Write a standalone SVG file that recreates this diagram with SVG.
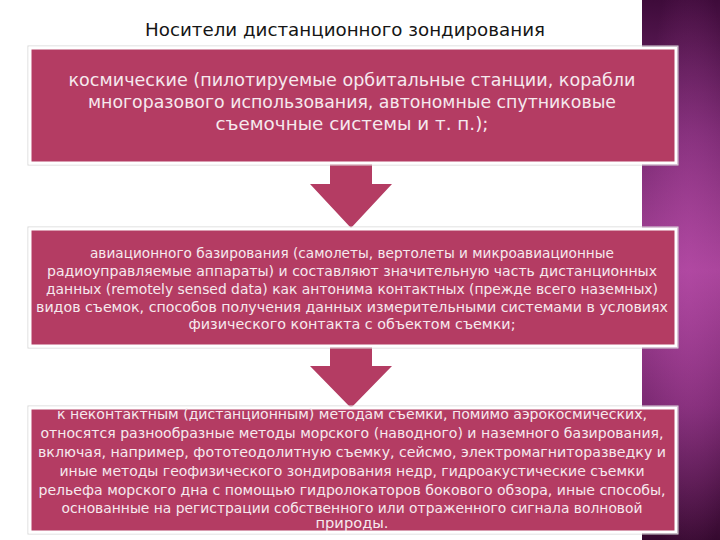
<svg xmlns="http://www.w3.org/2000/svg" width="720" height="540" viewBox="0 0 720 540">
<defs>
<linearGradient id="stripe" x1="0" y1="0" x2="0" y2="1">
<stop offset="0" stop-color="#3e0b3a"/>
<stop offset="0.25" stop-color="#7a2a72"/>
<stop offset="0.5" stop-color="#a8449a"/>
<stop offset="0.75" stop-color="#7c2a73"/>
<stop offset="1" stop-color="#35092f"/>
</linearGradient>
<radialGradient id="glow" cx="0.6" cy="0.5" r="0.6">
<stop offset="0" stop-color="#c050b0" stop-opacity="0.35"/>
<stop offset="1" stop-color="#c050b0" stop-opacity="0"/>
</radialGradient>
<style>
.box{fill:#b43c63;stroke:#ffffff;stroke-width:3}
.shadow{fill:none;stroke:#d8d8d8;stroke-width:1}
.t{font-family:"DejaVu Sans","Liberation Sans",sans-serif;fill:#f6e9ee;text-anchor:middle}
.t1{font-size:18px}
.t2{font-size:14px}
.title{font-family:"DejaVu Sans","Liberation Sans",sans-serif;font-size:17px;fill:#151515;text-anchor:middle}
.arrow{fill:#b43c63}
</style>
</defs>
<rect x="0" y="0" width="720" height="540" fill="#ffffff"/>
<rect x="642" y="0" width="78" height="540" fill="url(#stripe)"/>
<rect x="642" y="0" width="78" height="540" fill="url(#glow)"/>
<text id="title" class="title" x="345" y="36" textLength="400" lengthAdjust="spacingAndGlyphs">Носители дистанционного зондирования</text>
<g id="connectors">
<polygon class="arrow" points="330,163 372,163 372,184 392,184 351,228 310,184 330,184"/>
<polygon class="arrow" points="330,346 372,346 372,366 392,366 351,408 310,366 330,366"/>
</g>
<g id="node1">
<rect class="shadow" x="28" y="46" width="650" height="119"/>
<rect class="box" x="30" y="48" width="646" height="115"/>
<text class="t t1" x="352" y="86" textLength="567" lengthAdjust="spacingAndGlyphs">космические (пилотируемые орбитальные станции, корабли</text>
<text class="t t1" x="352" y="108" textLength="528" lengthAdjust="spacingAndGlyphs">многоразового использования, автономные спутниковые</text>
<text class="t t1" x="352" y="130" textLength="273" lengthAdjust="spacingAndGlyphs">съемочные системы и т. п.);</text>
</g>
<g id="node2">
<rect class="shadow" x="28" y="227" width="650" height="121"/>
<rect class="box" x="30" y="229" width="646" height="117"/>
<text class="t t2" x="352" y="258" textLength="524" lengthAdjust="spacingAndGlyphs">авиационного базирования (самолеты, вертолеты и микроавиационные</text>
<text class="t t2" x="352" y="276" textLength="610" lengthAdjust="spacingAndGlyphs">радиоуправляемые аппараты) и составляют значительную часть дистанционных</text>
<text class="t t2" x="352" y="294" textLength="612" lengthAdjust="spacingAndGlyphs">данных (remotely sensed data) как антонима контактных (прежде всего наземных)</text>
<text class="t t2" x="352" y="312" textLength="632" lengthAdjust="spacingAndGlyphs">видов съемок, способов получения данных измерительными системами в условиях</text>
<text class="t t2" x="352" y="329" textLength="327" lengthAdjust="spacingAndGlyphs">физического контакта с объектом съемки;</text>
</g>
<g id="node3">
<rect class="shadow" x="28" y="406" width="650" height="128"/>
<rect class="box" x="30" y="408" width="646" height="124"/>
<text class="t t2" x="352" y="419" textLength="590" lengthAdjust="spacingAndGlyphs">к неконтактным (дистанционным) методам съемки, помимо аэрокосмических,</text>
<text class="t t2" x="352" y="438" textLength="623" lengthAdjust="spacingAndGlyphs">относятся разнообразные методы морского (наводного) и наземного базирования,</text>
<text class="t t2" x="352" y="457" textLength="628" lengthAdjust="spacingAndGlyphs">включая, например, фототеодолитную съемку, сейсмо, электромагниторазведку и</text>
<text class="t t2" x="352" y="476" textLength="585" lengthAdjust="spacingAndGlyphs">иные методы геофизического зондирования недр, гидроакустические съемки</text>
<text class="t t2" x="352" y="495" textLength="627" lengthAdjust="spacingAndGlyphs">рельефа морского дна с помощью гидролокаторов бокового обзора, иные способы,</text>
<text class="t t2" x="352" y="513" textLength="581" lengthAdjust="spacingAndGlyphs">основанные на регистрации собственного или отраженного сигнала волновой</text>
<text class="t t2" x="352" y="528" textLength="73" lengthAdjust="spacingAndGlyphs">природы.</text>
</g>
</svg>
